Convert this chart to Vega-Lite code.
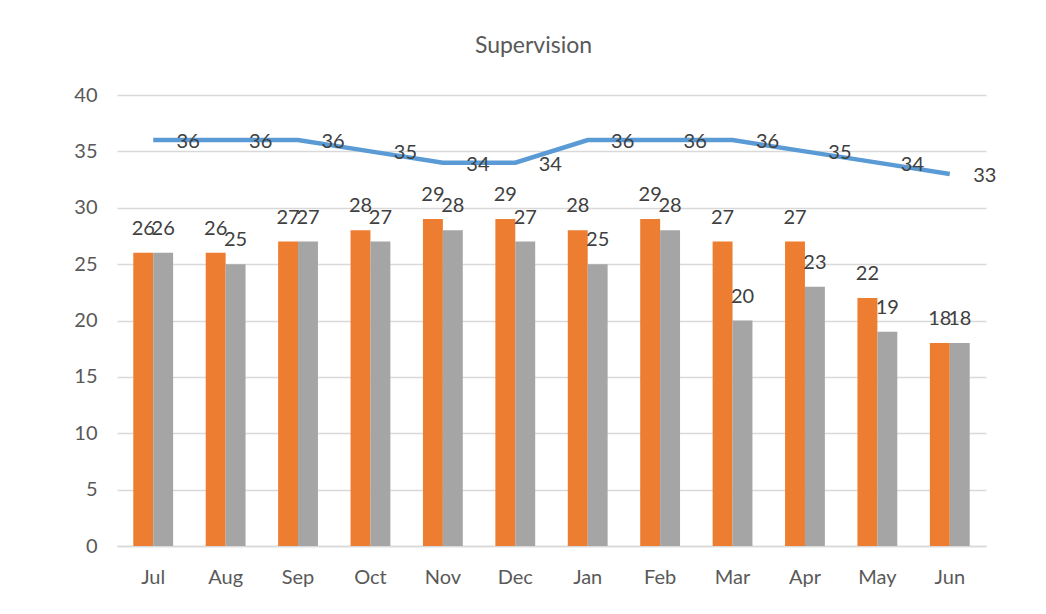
{
  "$schema": "https://vega.github.io/schema/vega-lite/v6.json",
  "width": 869,
  "height": 451,
  "autosize": {"type": "none"},
  "padding": {"left": 117, "top": 95, "right": 60, "bottom": 68},
  "background": "white",
  "config": {
    "font": "Lato",
    "view": {"stroke": null},
    "axis": {"labelFont": "Lato", "labelColor": "#595959", "labelFontSize": 20}
  },
  "title": {"text": "Supervision", "fontSize": 23, "fontWeight": "normal", "color": "#595959", "font": "Lato", "offset": 27, "dx": -18, "anchor": "middle"},
  "data": {
    "values": [
      {"month": "Jul", "series": "A", "value": 26}, {"month": "Jul", "series": "B", "value": 26}, {"month": "Jul", "series": "L", "value": 36},
      {"month": "Aug", "series": "A", "value": 26}, {"month": "Aug", "series": "B", "value": 25}, {"month": "Aug", "series": "L", "value": 36},
      {"month": "Sep", "series": "A", "value": 27}, {"month": "Sep", "series": "B", "value": 27}, {"month": "Sep", "series": "L", "value": 36},
      {"month": "Oct", "series": "A", "value": 28}, {"month": "Oct", "series": "B", "value": 27}, {"month": "Oct", "series": "L", "value": 35},
      {"month": "Nov", "series": "A", "value": 29}, {"month": "Nov", "series": "B", "value": 28}, {"month": "Nov", "series": "L", "value": 34},
      {"month": "Dec", "series": "A", "value": 29}, {"month": "Dec", "series": "B", "value": 27}, {"month": "Dec", "series": "L", "value": 34},
      {"month": "Jan", "series": "A", "value": 28}, {"month": "Jan", "series": "B", "value": 25}, {"month": "Jan", "series": "L", "value": 36},
      {"month": "Feb", "series": "A", "value": 29}, {"month": "Feb", "series": "B", "value": 28}, {"month": "Feb", "series": "L", "value": 36},
      {"month": "Mar", "series": "A", "value": 27}, {"month": "Mar", "series": "B", "value": 20}, {"month": "Mar", "series": "L", "value": 36},
      {"month": "Apr", "series": "A", "value": 27}, {"month": "Apr", "series": "B", "value": 23}, {"month": "Apr", "series": "L", "value": 35},
      {"month": "May", "series": "A", "value": 22}, {"month": "May", "series": "B", "value": 19}, {"month": "May", "series": "L", "value": 34},
      {"month": "Jun", "series": "A", "value": 18}, {"month": "Jun", "series": "B", "value": 18}, {"month": "Jun", "series": "L", "value": 33}
    ]
  },
  "encoding": {
    "x": {
      "field": "month", "type": "nominal", "sort": null,
      "scale": {"paddingInner": 0.45, "paddingOuter": 0.225},
      "axis": {"title": null, "labelAngle": 0, "ticks": false, "domain": true, "domainColor": "#d9d9d9", "domainWidth": 1.5, "labelPadding": 21, "grid": false}
    }
  },
  "resolve": {"scale": {"y": "shared"}},
  "layer": [
    {
      "transform": [{"filter": "datum.series !== 'L'"}],
      "mark": {"type": "bar"},
      "encoding": {
        "xOffset": {"field": "series", "type": "nominal", "scale": {"paddingInner": 0, "paddingOuter": 0}},
        "y": {
          "field": "value", "type": "quantitative",
          "scale": {"domain": [0, 40]},
          "axis": {"title": null, "values": [0, 5, 10, 15, 20, 25, 30, 35, 40], "ticks": false, "domain": false, "gridColor": "#d9d9d9", "gridWidth": 1.5, "labelPadding": 20}
        },
        "color": {"field": "series", "type": "nominal", "scale": {"domain": ["A", "B"], "range": ["#ED7D31", "#A5A5A5"]}, "legend": null}
      }
    },
    {
      "transform": [{"filter": "datum.series !== 'L'"}],
      "mark": {"type": "text", "baseline": "middle", "align": "center", "dy": -24, "fontSize": 20, "color": "#404040"},
      "encoding": {
        "xOffset": {"field": "series", "type": "nominal", "scale": {"paddingInner": 0, "paddingOuter": 0}},
        "y": {"field": "value", "type": "quantitative"},
        "text": {"field": "value", "type": "quantitative"}
      }
    },
    {
      "transform": [{"filter": "datum.series === 'L'"}],
      "mark": {"type": "line", "color": "#5B9BD5", "strokeWidth": 4.5},
      "encoding": {"y": {"field": "value", "type": "quantitative"}}
    },
    {
      "transform": [{"filter": "datum.series === 'L'"}],
      "mark": {"type": "text", "baseline": "middle", "align": "center", "dx": 35, "dy": 2, "fontSize": 20, "color": "#404040"},
      "encoding": {
        "y": {"field": "value", "type": "quantitative"},
        "text": {"field": "value", "type": "quantitative"}
      }
    }
  ]
}
